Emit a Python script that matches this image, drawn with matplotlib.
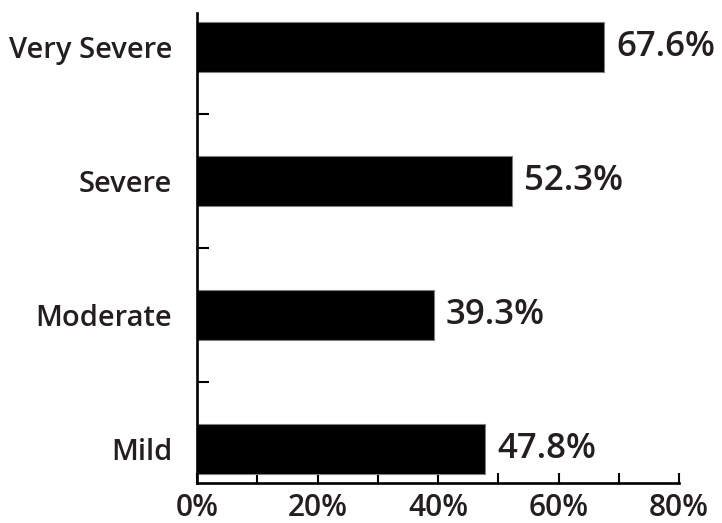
import matplotlib
matplotlib.use("Agg")
import matplotlib.pyplot as plt
from matplotlib.ticker import MultipleLocator, FixedLocator

categories = ["Mild", "Moderate", "Severe", "Very Severe"]
values = [47.8, 39.3, 52.3, 67.6]
x_ticks = [0, 20, 40, 60, 80]
x_tick_labels = ["0%", "20%", "40%", "60%", "80%"]

TEXT = "#231f20"
plt.rcParams["font.family"] = ["Open Sans", "DejaVu Sans"]
plt.rcParams["font.weight"] = "semibold"

W, H = 722, 523
fig = plt.figure(figsize=(W / 100, H / 100), dpi=100)
ax = fig.add_axes([197 / W, (H - 483) / H, 482 / W, 470 / H])

ypos = list(range(len(categories)))
ax.barh(ypos, values, height=0.373, color="black",
        edgecolor="#7f7f7f", linewidth=0.8, zorder=2)

for y, v in zip(ypos, values):
    ax.annotate(f"{v:.1f}%", xy=(v, y), xytext=(12, 0),
                textcoords="offset pixels", va="center", ha="left",
                fontsize=25, color=TEXT)

ax.set_xlim(0, 80)
ax.set_ylim(-0.257, 3.257)

ax.set_xticks(x_ticks)
ax.set_xticklabels(x_tick_labels)
ax.xaxis.set_minor_locator(MultipleLocator(10))
ax.set_yticks(ypos)
ax.set_yticklabels(categories)
ax.yaxis.set_minor_locator(FixedLocator([0.5, 1.5, 2.5]))

for side in ("top", "right"):
    ax.spines[side].set_visible(False)
for side in ("left", "bottom"):
    ax.spines[side].set_linewidth(1.9)
    ax.spines[side].set_color("black")

ax.tick_params(axis="x", which="both", direction="in", length=7.5,
               width=1.5, color="black")
ax.tick_params(axis="x", which="major", labelsize=21.5, labelcolor=TEXT, pad=7)
ax.tick_params(axis="y", which="major", length=0, labelsize=21,
               labelcolor=TEXT, pad=18)
ax.tick_params(axis="y", which="minor", direction="in", length=8.5,
               width=1.5, color="black")

fig.savefig("out.png", dpi=100)
